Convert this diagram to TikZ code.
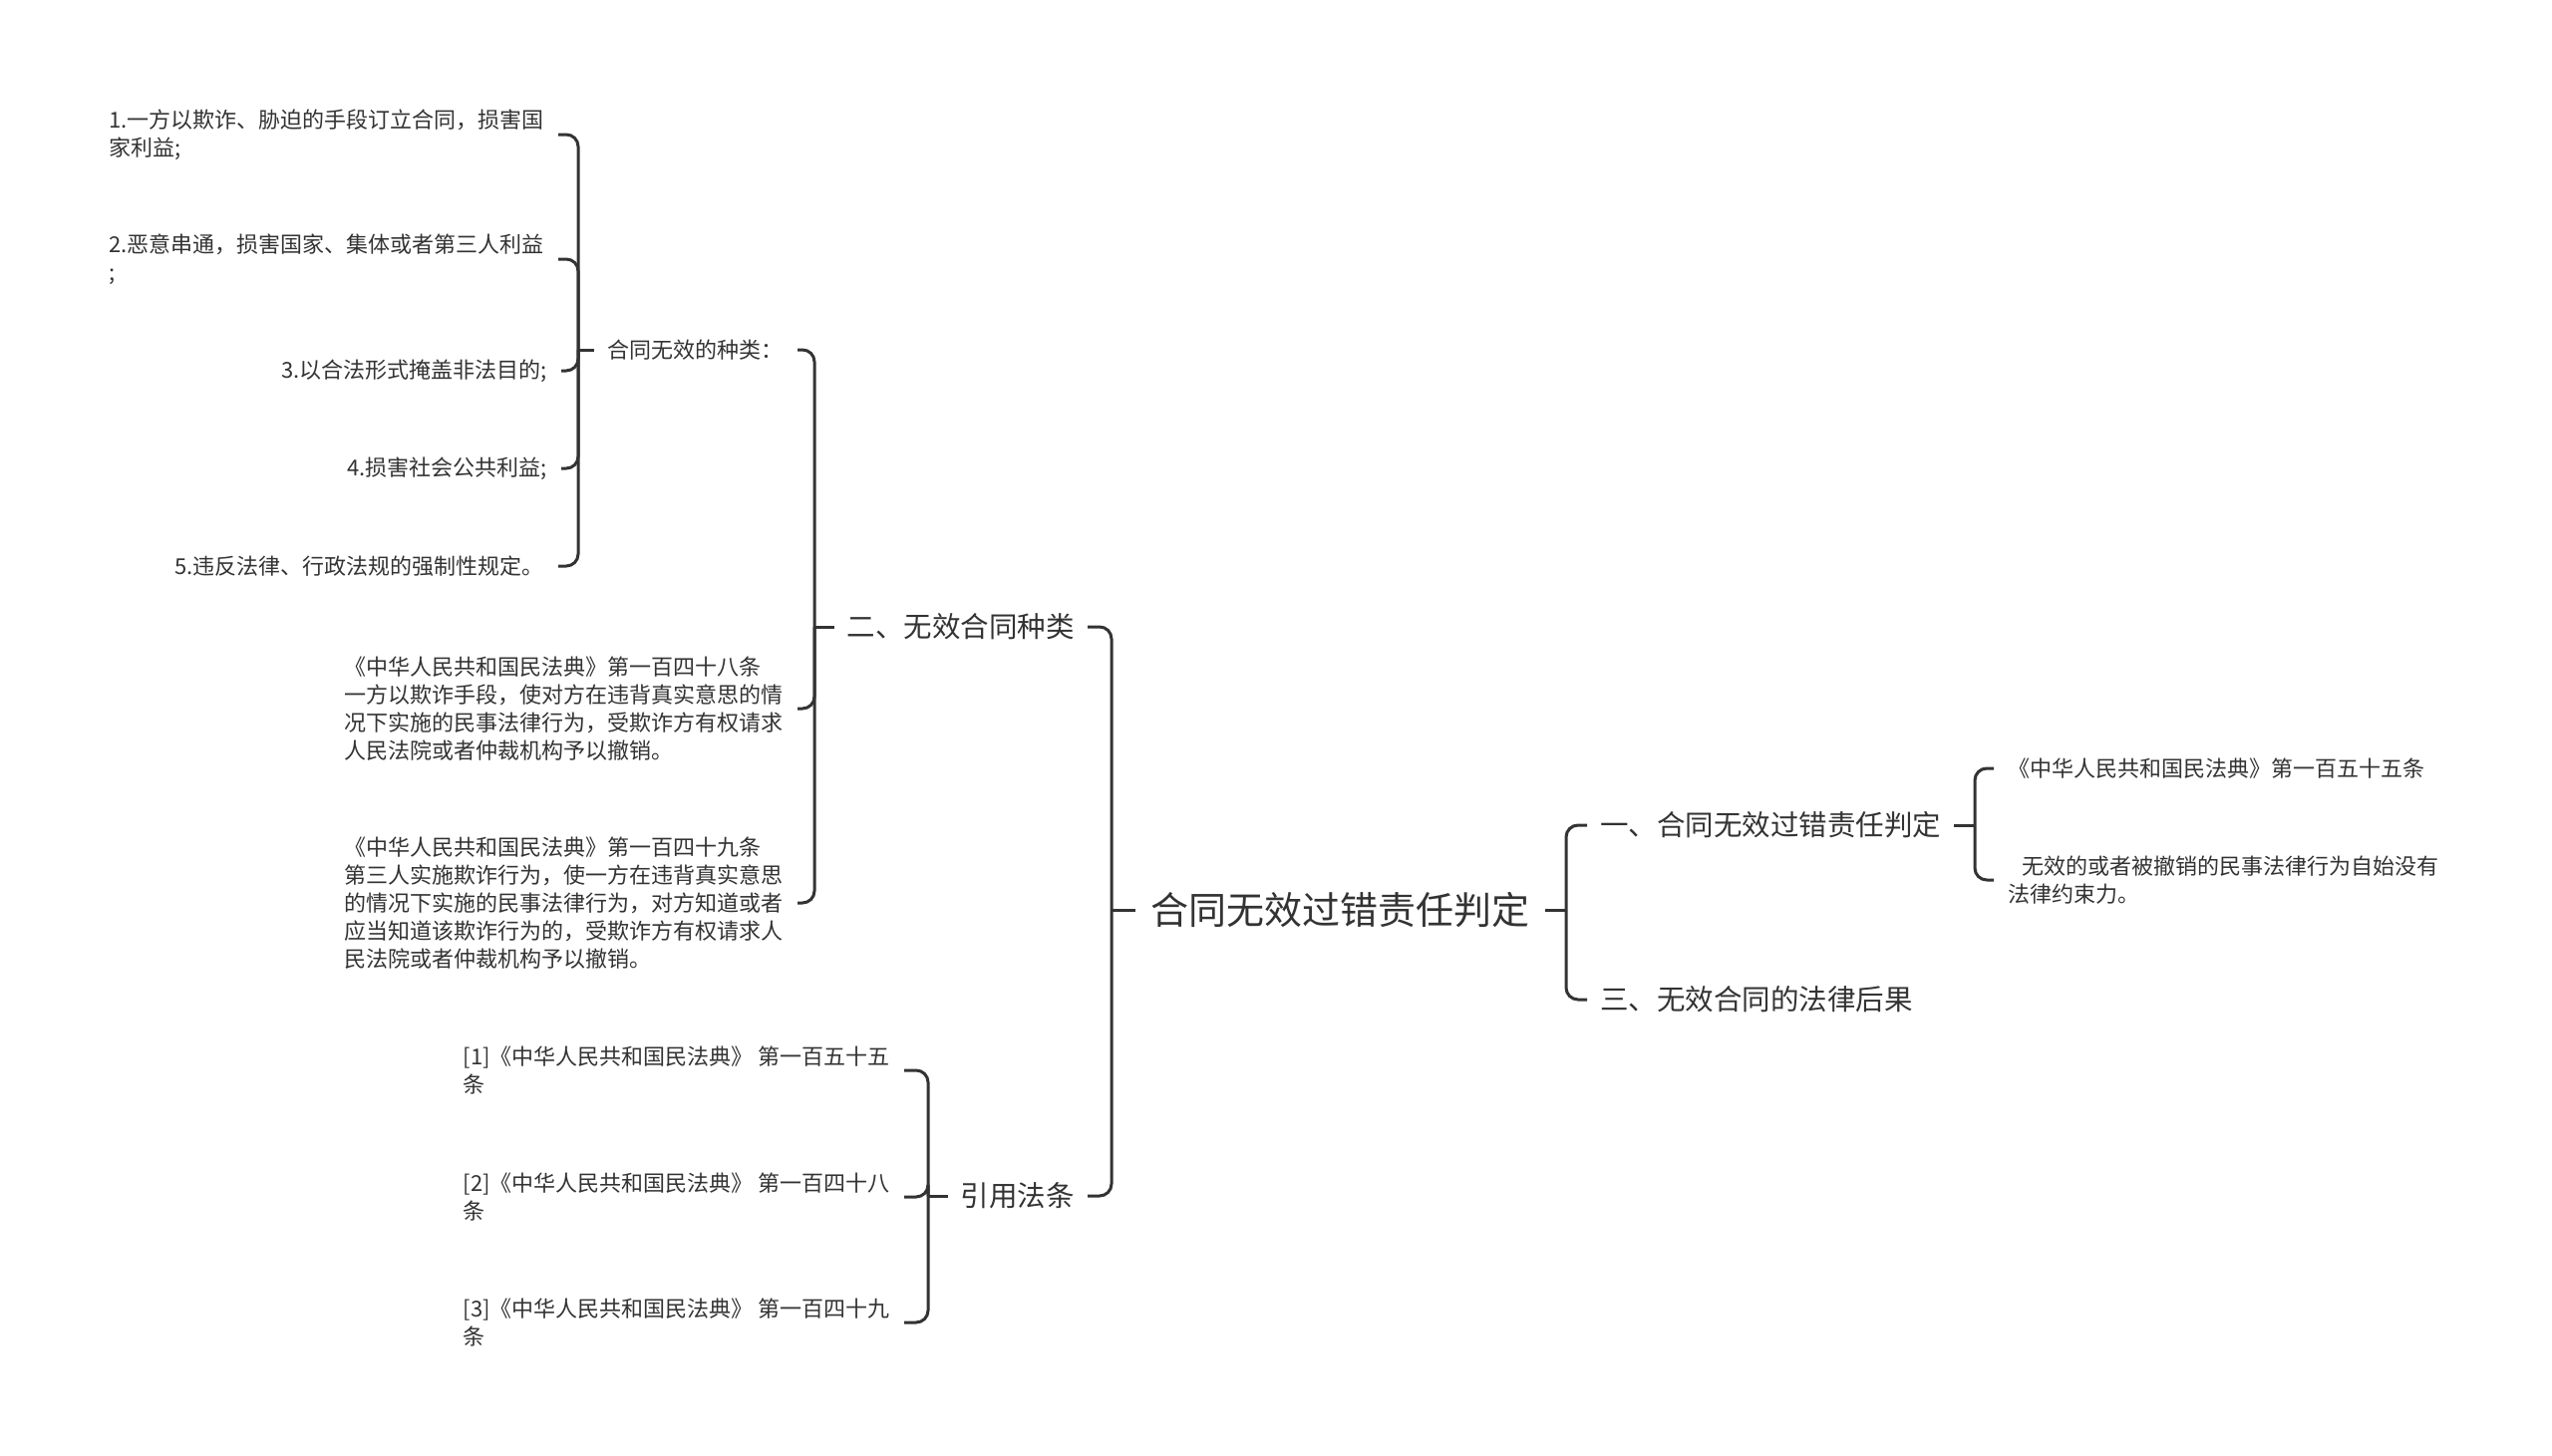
\documentclass[tikz,border=0pt]{standalone}
\usepackage{fontspec}
\setmainfont{Noto Sans CJK SC}
\definecolor{ln}{HTML}{333333}
\begin{document}
\begin{tikzpicture}[x=1pt,y=-1pt,
  edge/.style={draw=ln, line width=3pt, rounded corners=12pt},
  stub/.style={draw=ln, line width=3pt},
  rootnode/.style={font=\fontsize{38}{46}\selectfont, inner xsep=15pt, inner ysep=4pt},
  midnode/.style={font=\fontsize{28.5}{34}\selectfont, inner xsep=13pt, inner ysep=4pt},
  leaf/.style={font=\fontsize{22}{28}\selectfont, inner xsep=14pt, inner ysep=2pt, align=left},
  every node/.style={text=ln}
]
\useasboundingbox[fill=white] (0,0) rectangle (2560,1460);

% root
\node[rootnode] (root) at (1344.5,913) {合同无效过错责任判定};

% right side
\coordinate (jR) at (1571,913);
\node[midnode, anchor=west] (n1) at (1592,828) {一、合同无效过错责任判定};
\node[midnode, anchor=west] (n3) at (1592,1003) {三、无效合同的法律后果};
\coordinate (j1) at (1981,828);
\node[leaf, anchor=west] (l155) at (2000,771) {《中华人民共和国民法典》第一百五十五条};
\node[leaf, anchor=west] (lwx) at (2000,883) {\hspace*{14pt}无效的或者被撤销的民事法律行为自始没有\\法律约束力。};

\draw[stub] (root.east) -- (jR);
\draw[edge] (jR) |- (n1.west);
\draw[edge] (jR) |- (n3.west);
\draw[stub] (n1.east) -- (j1);
\draw[edge] (j1) |- (l155.west);
\draw[edge] (j1) |- (lwx.west);

% left side
\coordinate (jL) at (1115,913);
\node[midnode, anchor=east] (n2) at (1091,629) {二、无效合同种类};
\node[midnode, anchor=east] (ny) at (1091,1200) {引用法条};
\draw[stub] (root.west) -- (jL);
\draw[edge] (jL) |- (n2.east);
\draw[edge] (jL) |- (ny.east);

\coordinate (j2) at (817,629);
\node[leaf, anchor=east] (zl) at (800,351) {合同无效的种类：};
\node[leaf, anchor=east] (a148) at (800,711) {《中华人民共和国民法典》第一百四十八条\\一方以欺诈手段，使对方在违背真实意思的情\\况下实施的民事法律行为，受欺诈方有权请求\\人民法院或者仲裁机构予以撤销。};
\node[leaf, anchor=east] (a149) at (800,906) {《中华人民共和国民法典》第一百四十九条\\第三人实施欺诈行为，使一方在违背真实意思\\的情况下实施的民事法律行为，对方知道或者\\应当知道该欺诈行为的，受欺诈方有权请求人\\民法院或者仲裁机构予以撤销。};
\draw[stub] (n2.west) -- (j2);
\draw[edge] (j2) |- (zl.east);
\draw[edge] (j2) |- (a148.east);
\draw[edge] (j2) |- (a149.east);

\coordinate (jz) at (580,351);
\node[leaf, anchor=east] (i1) at (560,135) {1.一方以欺诈、胁迫的手段订立合同，损害国\\家利益;};
\node[leaf, anchor=east] (i2) at (560,260) {2.恶意串通，损害国家、集体或者第三人利益\\;};
\node[leaf, anchor=east] (i3) at (563,372) {3.以合法形式掩盖非法目的;};
\node[leaf, anchor=east] (i4) at (563,470) {4.损害社会公共利益;};
\node[leaf, anchor=east] (i5) at (560,568) {5.违反法律、行政法规的强制性规定。};
\draw[stub] (zl.west) -- (jz);
\foreach \n in {i1,i2,i3,i4,i5} {\draw[edge] (jz) |- (\n.east);}

\coordinate (jy) at (931,1200);
\node[leaf, anchor=east] (r1) at (907,1074) {[1]《中华人民共和国民法典》 第一百五十五\\条};
\node[leaf, anchor=east] (r2) at (907,1201) {[2]《中华人民共和国民法典》 第一百四十八\\条};
\node[leaf, anchor=east] (r3) at (907,1327) {[3]《中华人民共和国民法典》 第一百四十九\\条};
\draw[stub] (ny.west) -- (jy);
\foreach \n in {r1,r2,r3} {\draw[edge] (jy) |- (\n.east);}
\end{tikzpicture}
\end{document}
